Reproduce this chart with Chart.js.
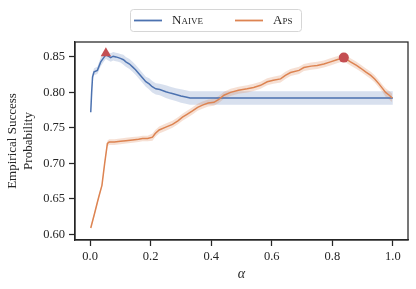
<!DOCTYPE html>
<html>
<head>
<meta charset="utf-8">
<script src="https://cdn.jsdelivr.net/npm/chart.js@4/dist/chart.umd.min.js"></script>
<style>
  html, body { margin: 0; padding: 0; background: #fff; }
  #wrap { width: 416px; height: 289px; }
</style>
</head>
<body>
<div id="wrap"><canvas id="c" width="416" height="289"></canvas></div>
<script>
// series names (legend)
const seriesNames = ["Naive", "Aps"];

// Naive: alpha, mean, half width of the shaded band
const naiveAlpha = [0.002, 0.005, 0.008, 0.013, 0.024, 0.035, 0.045, 0.052, 0.060, 0.068,
  0.076, 0.085, 0.093, 0.100, 0.110, 0.118, 0.130, 0.140, 0.150, 0.162,
  0.172, 0.184, 0.195, 0.205, 0.217, 0.230, 0.250, 0.265, 0.283, 0.300,
  0.316, 0.330, 1.000];
const naiveMean = [0.772, 0.800, 0.822, 0.829, 0.831, 0.843, 0.849, 0.853, 0.851, 0.849,
  0.851, 0.850, 0.849, 0.848, 0.846, 0.843, 0.840, 0.836, 0.832, 0.826,
  0.821, 0.815, 0.812, 0.808, 0.805, 0.804, 0.801, 0.799, 0.797, 0.795,
  0.7935, 0.792, 0.792];
const naiveBand = [0.003, 0.004, 0.005, 0.005, 0.005, 0.006, 0.006, 0.006, 0.006, 0.006,
  0.006, 0.006, 0.006, 0.006, 0.007, 0.007, 0.007, 0.007, 0.007, 0.007,
  0.007, 0.007, 0.008, 0.008, 0.008, 0.008, 0.009, 0.009, 0.009, 0.0095,
  0.0095, 0.0095, 0.0095];

// Aps: alpha, mean, half width of the shaded band
const apsAlpha = [0.002, 0.015, 0.025, 0.030, 0.039, 0.048, 0.057, 0.063, 0.080, 0.100,
  0.118, 0.140, 0.160, 0.173, 0.190, 0.206, 0.215, 0.228, 0.250, 0.272,
  0.290, 0.305, 0.320, 0.338, 0.355, 0.371, 0.390, 0.409, 0.425, 0.442,
  0.464, 0.490, 0.519, 0.540, 0.563, 0.585, 0.605, 0.629, 0.645, 0.662,
  0.690, 0.706, 0.730, 0.750, 0.772, 0.794, 0.815, 0.838, 0.860, 0.880,
  0.894, 0.910, 0.927, 0.940, 0.954, 0.965, 0.976, 0.988, 0.998];
const apsMean = [0.609, 0.630, 0.647, 0.655, 0.669, 0.700, 0.728, 0.730, 0.730, 0.731,
  0.732, 0.733, 0.734, 0.735, 0.735, 0.737, 0.742, 0.747, 0.751, 0.755,
  0.760, 0.765, 0.769, 0.774, 0.779, 0.782, 0.785, 0.786, 0.790, 0.796,
  0.800, 0.803, 0.805, 0.807, 0.810, 0.815, 0.817, 0.819, 0.824, 0.828,
  0.831, 0.835, 0.837, 0.838, 0.840, 0.843, 0.846, 0.849, 0.843, 0.838,
  0.834, 0.829, 0.824, 0.819, 0.812, 0.806, 0.800, 0.796, 0.792];
const apsBand = [0.002, 0.002, 0.002, 0.002, 0.002, 0.003, 0.004, 0.004, 0.004, 0.004,
  0.004, 0.004, 0.004, 0.004, 0.004, 0.005, 0.005, 0.005, 0.005, 0.005,
  0.005, 0.005, 0.005, 0.005, 0.005, 0.005, 0.005, 0.005, 0.005, 0.005,
  0.005, 0.005, 0.005, 0.005, 0.005, 0.005, 0.005, 0.005, 0.005, 0.005,
  0.005, 0.005, 0.005, 0.005, 0.005, 0.005, 0.005, 0.005, 0.005, 0.005,
  0.005, 0.005, 0.005, 0.005, 0.005, 0.005, 0.006, 0.006, 0.006];

// best points (markers)
const naiveBest = [0.052, 0.855];
const apsBest = [0.838, 0.849];

// ticks
const xTicks = [0.0, 0.2, 0.4, 0.6, 0.8, 1.0];
const yTicks = [0.60, 0.65, 0.70, 0.75, 0.80, 0.85];

const BLUE = "#4c72b0";
const ORANGE = "#dd8452";
const RED = "#c44e52";
const INK = "#262626";
const FONT = "'Liberation Serif', 'Times New Roman', serif";

function pts(xs, ys) {
  return xs.map((x, i) => ({ x: x, y: ys[i] }));
}
function shifted(xs, ys, ds, sign) {
  return xs.map((x, i) => ({ x: x, y: ys[i] + sign * ds[i] }));
}

// frame on all four sides + framed legend drawn on top
const frameLegend = {
  id: "frameLegend",
  afterDraw(chart) {
    const { ctx, chartArea: a } = chart;
    ctx.save();
    ctx.strokeStyle = INK;
    ctx.lineWidth = 1.25;
    ctx.strokeRect(a.left, a.top, a.right - a.left, a.bottom - a.top);

    // legend box
    ctx.beginPath();
    ctx.roundRect(130.5, 9.5, 171, 22, 3);
    ctx.fillStyle = "#fff";
    ctx.fill();
    ctx.strokeStyle = "#d6d6d6";
    ctx.lineWidth = 1;
    ctx.stroke();

    const items = [
      { x: 134, color: BLUE, text: seriesNames[0] },
      { x: 235, color: ORANGE, text: seriesNames[1] },
    ];
    ctx.font = "small-caps 13px " + FONT;
    ctx.fontVariantCaps = "small-caps";
    ctx.textBaseline = "middle";
    ctx.textAlign = "left";
    items.forEach((it) => {
      ctx.beginPath();
      ctx.moveTo(it.x, 20.5);
      ctx.lineTo(it.x + 28, 20.5);
      ctx.strokeStyle = it.color;
      ctx.lineWidth = 1.8;
      ctx.stroke();
      ctx.fillStyle = INK;
      ctx.fillText(it.text, it.x + 38, 21);
    });
    ctx.restore();
  },
};

const data = {
  datasets: [
    {
      label: "naiveBest",
      type: "scatter",
      data: [{ x: naiveBest[0], y: naiveBest[1] }],
      pointStyle: "triangle",
      pointRadius: 6,
      backgroundColor: RED,
      borderColor: RED,
      borderWidth: 0,
      order: 0,
    },
    {
      label: "apsBest",
      type: "scatter",
      data: [{ x: apsBest[0], y: apsBest[1] }],
      pointStyle: "circle",
      pointRadius: 5,
      backgroundColor: RED,
      borderColor: RED,
      borderWidth: 0,
      order: 0,
    },
    {
      label: seriesNames[1],
      data: pts(apsAlpha, apsMean),
      borderColor: ORANGE,
      borderWidth: 1.5,
      pointRadius: 0,
      fill: false,
      order: 1,
    },
    {
      label: seriesNames[0],
      data: pts(naiveAlpha, naiveMean),
      borderColor: BLUE,
      borderWidth: 1.5,
      pointRadius: 0,
      fill: false,
      order: 2,
    },
    {
      label: "apsHi",
      data: shifted(apsAlpha, apsMean, apsBand, 1),
      borderWidth: 0,
      pointRadius: 0,
      backgroundColor: "rgba(221,132,82,0.25)",
      fill: "+1",
      order: 3,
    },
    {
      label: "apsLo",
      data: shifted(apsAlpha, apsMean, apsBand, -1),
      borderWidth: 0,
      pointRadius: 0,
      fill: false,
      order: 3,
    },
    {
      label: "naiveHi",
      data: shifted(naiveAlpha, naiveMean, naiveBand, 1),
      borderWidth: 0,
      pointRadius: 0,
      backgroundColor: "rgba(76,114,176,0.22)",
      fill: "+1",
      order: 4,
    },
    {
      label: "naiveLo",
      data: shifted(naiveAlpha, naiveMean, naiveBand, -1),
      borderWidth: 0,
      pointRadius: 0,
      fill: false,
      order: 4,
    },
  ],
};

new Chart(document.getElementById("c"), {
  type: "line",
  data: data,
  options: {
    responsive: false,
    animation: false,
    events: [],
    layout: { padding: { top: 42, right: 8, left: 0, bottom: 0 } },
    elements: { line: { tension: 0 } },
    plugins: {
      legend: { display: false },
      tooltip: { enabled: false },
    },
    scales: {
      x: {
        type: "linear",
        min: -0.05,
        max: 1.05,
        afterBuildTicks: (s) => { s.ticks = xTicks.map((v) => ({ value: v })); },
        afterFit: (s) => { s.height = 49; },
        grid: { display: true, drawOnChartArea: false, drawTicks: true, tickLength: 6, tickColor: INK, tickWidth: 1.25 },
        border: { display: true, color: INK, width: 1.25 },
        ticks: {
          color: INK,
          padding: 3,
          font: { family: FONT, size: 12.5 },
          callback: (v) => Number(v).toFixed(1),
        },
        title: {
          display: true,
          text: "α",
          color: INK,
          font: { family: FONT, size: 14, style: "italic" },
          padding: { top: 0, bottom: 6 },
        },
      },
      y: {
        type: "linear",
        min: 0.592,
        max: 0.871,
        afterBuildTicks: (s) => { s.ticks = yTicks.map((v) => ({ value: v })); },
        afterFit: (s) => { s.width = 75; },
        grid: { display: true, drawOnChartArea: false, drawTicks: true, tickLength: 6, tickColor: INK, tickWidth: 1.25 },
        border: { display: true, color: INK, width: 1.25 },
        ticks: {
          color: INK,
          padding: 4,
          font: { family: FONT, size: 12.5 },
          callback: (v) => Number(v).toFixed(2),
        },
        title: {
          display: true,
          text: ["Empirical Success", "Probability"],
          color: INK,
          font: { family: FONT, size: 13, lineHeight: 1.2 },
          padding: { top: 5, bottom: 0 },
        },
      },
    },
  },
  plugins: [frameLegend],
});
</script>
</body>
</html>
